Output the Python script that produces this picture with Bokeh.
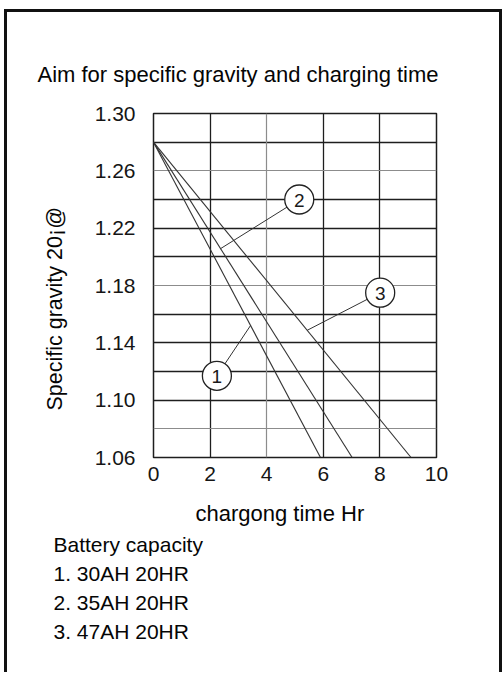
import numpy as np
from bokeh.plotting import figure
from bokeh.models import FixedTicker, Grid, PrintfTickFormatter, Range1d, Title
from bokeh.embed import file_html
from bokeh.resources import INLINE
from bokeh.core.properties import value

# ---------------- data ----------------
title_text = "Aim for specific gravity and charging time"
x_label = "chargong time Hr"
y_label = "Specific gravity 20¡@"
legend_lines = ["Battery capacity", "1. 30AH 20HR", "2. 35AH 20HR", "3. 47AH 20HR"]
series_names = ["1", "2", "3"]
start_time = [0.0, 0.0, 0.0]
start_gravity = [1.28, 1.28, 1.28]
end_time = [5.9, 7.02, 9.1]
end_gravity = [1.06, 1.06, 1.06]
callout_x = [2.24, 5.15, 8.01]
callout_y = [1.117, 1.240, 1.175]
pointer_x = [3.43, 2.37, 5.43]
x_ticks = [0, 2, 4, 6, 8, 10]
y_ticks = [1.06, 1.10, 1.14, 1.18, 1.22, 1.26, 1.30]
x_grid_dark = [2, 6, 8]
x_grid_light = [4]
y_grid_dark = [1.10, 1.12, 1.14, 1.16, 1.20, 1.22, 1.24, 1.28]
y_grid_light = [1.08, 1.18, 1.26]

# ---------------- layout ----------------
W, H = 502, 672
FL, FT, FW, FH = 153, 113, 283, 344
FONT = "Liberation Sans"
INK = "#1e1e1e"
TXT = "#050505"

p = figure(width=W, height=H, x_range=Range1d(0, 10), y_range=Range1d(1.06, 1.30),
           output_backend="svg", toolbar_location=None,
           min_border_left=FL, min_border_right=W - FL - FW,
           min_border_top=FT, min_border_bottom=H - FT - FH)
p.background_fill_color = "white"
p.border_fill_color = None
p.outline_line_color = INK
p.outline_line_width = 1.5
p.styles = {"box-shadow": "inset 4px 0 0 #ffffff, inset 0 9px 0 #ffffff, "
                          "inset 7px 0 0 #111111, inset 0 12px 0 #111111, inset -3px 0 0 #111111"}

for ax in (p.xaxis[0], p.yaxis[0]):
    ax.axis_line_color = None
    ax.major_tick_line_color = None
    ax.minor_tick_line_color = None
    ax.major_tick_out = 0
    ax.major_tick_in = 0
    ax.minor_tick_out = 0
    ax.major_label_text_font = FONT
    ax.major_label_text_font_size = "21px"
    ax.major_label_text_color = "#151515"
p.xaxis.ticker = FixedTicker(ticks=x_ticks)
p.yaxis.ticker = FixedTicker(ticks=y_ticks)
p.yaxis.formatter = PrintfTickFormatter(format="%.2f")
p.yaxis.major_label_standoff = 18
p.xaxis.major_label_standoff = 9

p.xgrid.ticker = FixedTicker(ticks=x_grid_dark)
p.ygrid.ticker = FixedTicker(ticks=y_grid_dark)
for g in (p.xgrid[0], p.ygrid[0]):
    g.grid_line_color = INK
    g.grid_line_width = 1.3
p.add_layout(Grid(dimension=0, ticker=FixedTicker(ticks=x_grid_light),
                  grid_line_color="#8c8c8c", grid_line_width=1.2))
p.add_layout(Grid(dimension=1, ticker=FixedTicker(ticks=y_grid_light),
                  grid_line_color="#8c8c8c", grid_line_width=1.2))

# series lines
for i in range(3):
    p.line([start_time[i], end_time[i]], [start_gravity[i], end_gravity[i]],
           line_color="#333333", line_width=1.1)

# callouts
pointer_y = [float(np.interp(pointer_x[i], [start_time[i], end_time[i]],
                             [start_gravity[i], end_gravity[i]])) for i in range(3)]
p.segment(x0=pointer_x, y0=pointer_y, x1=callout_x, y1=callout_y,
          line_color="#333333", line_width=1.0)
p.scatter(callout_x, callout_y, marker="circle", size=29, fill_color="white",
          line_color="#222222", line_width=1.3)
p.text(callout_x, callout_y, text=series_names, text_align="center",
       text_baseline="middle", text_font=value(FONT), text_font_size="19px",
       text_color="#1a1a1a", y_offset=1)

# title (above)
p.title.text = title_text
p.title.align = "left"
p.title.offset = 37 - FL
p.title.standoff = 53
p.title.text_font = FONT
p.title.text_font_size = "22px"
p.title.text_font_style = "normal"
p.title.text_color = TXT

# x label (below, after axis)
p.add_layout(Title(text=x_label, align="left", offset=195 - FL, standoff=35,
                   vertical_align="top", text_font=FONT, text_font_size="22px",
                   text_font_style="normal", text_color=TXT), "below")
# capacity notes (below)
p.add_layout(Title(text="\n".join(legend_lines), align="left", offset=53 - FL, standoff=-25,
                   vertical_align="top", text_font=FONT, text_font_size="21px",
                   text_line_height=1.265, text_font_style="normal", text_color=TXT),
             "below")
# y label (left, after axis)
p.add_layout(Title(text=y_label, align="left", offset=457 - 410, standoff=49,
                   vertical_align="bottom", text_font=FONT, text_font_size="21.5px",
                   text_font_style="normal", text_color=TXT), "left")

open("out.html", "w").write(file_html(p, INLINE))
